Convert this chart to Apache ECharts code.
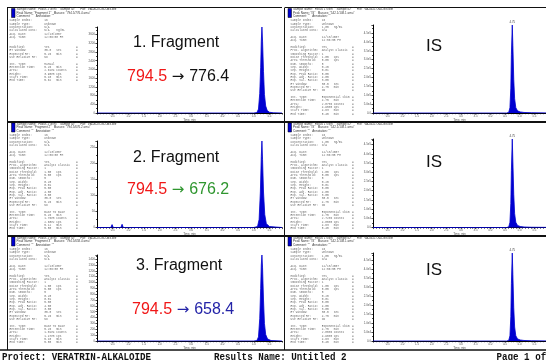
<!DOCTYPE html>
<html>
<head>
<meta charset="utf-8">
<script src="https://cdn.jsdelivr.net/npm/echarts@6/dist/echarts.min.js"></script>
<style>
html,body{margin:0;padding:0;background:#fff;}
#c{width:546px;height:360px;}
</style>
</head>
<body>
<div id="c"></div>
<script>
// Chromatogram traces, [time (min), intensity (cps)]
const frag1Trace = [[0,0],[0.5,0],[1.0,0],[2.0,0],[3.0,0],[4.0,0],[5.0,0],[5.10,20],[5.15,180],[5.19,900],[5.22,2100],[5.24,3300],[5.26,3950],[5.28,3300],[5.31,1900],[5.34,850],[5.38,320],[5.43,110],[5.50,35],[5.62,10],[5.9,0]];
const frag2Trace = [[0,0],[0.44,0],[0.48,9],[0.52,0],[0.76,0],[0.80,10],[0.84,0],[1.5,0],[3.0,0],[5.0,0],[5.12,3],[5.17,25],[5.21,110],[5.24,220],[5.26,268],[5.28,210],[5.31,110],[5.35,40],[5.40,12],[5.50,3],[5.9,0]];
const frag3Trace = [[0,0],[1.0,0],[2.0,0],[4.0,0],[5.0,0],[5.10,8],[5.15,70],[5.19,380],[5.22,900],[5.24,1300],[5.26,1470],[5.28,1250],[5.31,700],[5.34,300],[5.38,110],[5.44,35],[5.55,8],[5.9,0]];
const isTrace1 = [[0,0],[1.0,0],[2.0,0],[3.0,0],[4.0,0],[4.56,0],[4.63,4000],[4.67,30000],[4.70,140000],[4.72,330000],[4.75,495000],[4.77,380000],[4.80,190000],[4.83,80000],[4.87,30000],[4.93,12000],[5.02,6000],[5.15,3000],[5.40,1500],[5.9,800]];
const isTrace2 = [[0,0],[1.0,0],[2.0,0],[3.0,0],[4.0,0],[4.56,0],[4.63,3500],[4.67,28000],[4.70,130000],[4.72,310000],[4.75,480000],[4.77,360000],[4.80,180000],[4.83,75000],[4.87,28000],[4.93,11000],[5.02,5500],[5.15,2800],[5.40,1400],[5.9,700]];
const isTrace3 = [[0,0],[1.0,0],[2.0,0],[3.0,0],[4.0,0],[4.56,0],[4.63,3800],[4.67,29000],[4.70,135000],[4.72,320000],[4.75,490000],[4.77,370000],[4.80,185000],[4.83,78000],[4.87,29000],[4.93,11500],[5.02,5800],[5.15,2900],[5.40,1450],[5.9,750]];

// Axis settings
const timeRange = [0, 5.9];
const timeStep = 0.5;
const fragSteps = [400, 50, 100];
const isSteps = [50000, 50000, 50000];

// Panel captions
const fragmentTitles = ['1. Fragment', '2. Fragment', '3. Fragment'];
const precursorMz = ['794.5', '794.5', '794.5'];
const productMz = ['776.4', '676.2', '658.4'];
const productColors = ['#111111', '#2f962f', '#2424a8'];
const isTitle = 'IS';
const isTransition = '542.1/108.1';

// Footer
const footerProject = 'Project: VERATRIN-ALKALOIDE';
const footerResults = 'Results Name: Untitled 2';
const footerPage = 'Page 1 of';

const fragTraces = [frag1Trace, frag2Trace, frag3Trace];
const isTraces = [isTrace1, isTrace2, isTrace3];

// layout of the three report rows
const rowTop = [7.5, 122, 236];
const axisY = [113, 227.5, 341];
const BLUE = '#0000d0';

function peakIndex(tr) {
  let k = 0;
  tr.forEach((p, i) => { if (p[1] > tr[k][1]) k = i; });
  return k;
}
function peakEdges(tr) {
  const k = peakIndex(tr);
  let s = k, e = k;
  while (s > 0 && tr[s - 1][1] > 0) s--;
  while (e < tr.length - 1 && tr[e + 1][1] > tr[k][1] * 0.002) e++;
  return [tr[s][0], tr[e][0]];
}

function infoLong(o) {
  return [
    ['Sample Index:', '16'],
    ['Sample Type:', 'Unknown'],
    ['Concentration:', o.conc],
    ['Calculated Conc:', 'N/A'],
    [],
    ['Acq. Date:', '12/13/2007'],
    ['Acq. Time:', '12:56:58 PM'],
    [],
    ['Modified:', 'Yes'],
    ['Proc. Algorithm:', 'Analyst Classic'],
    ['Smoothing Factor:', '1'],
    ['Noise Threshold:', '1.00   cps'],
    ['Area Threshold:', '5.00   cps'],
    ['Num. Smooths:', '5'],
    ['Sep. Width:', '0.20'],
    ['Sep. Height:', '0.01'],
    ['Exp. Peak Ratio:', '5.00'],
    ['Exp. Adj. Ratio:', '4.00'],
    ['Exp. Val. Ratio:', '3.00'],
    ['RT Window:', '30.0   sec'],
    ['Expected RT:', o.rt + '   min'],
    ['Use Relative RT:', 'No'],
    [],
    ['Int. Type:', o.type],
    ['Retention Time:', o.rt + '   min'],
    ['Area:', o.area + ' counts'],
    ['Height:', o.height + ' cps'],
    ['Start Time:', o.start + '   min'],
    ['End Time:', o.end + '   min']
  ];
}
function infoShort(o) {
  return [
    ['Sample Index:', '16'],
    ['Sample Type:', 'Unknown'],
    ['Concentration:', 'N/A'],
    ['Calculated Conc:', 'N/A    ng/mL'],
    ['Acq. Date:', '12/13/2007'],
    ['Acq. Time:', '12:56:58 PM'],
    [],
    [],
    ['Modified:', 'Yes'],
    ['RT Window:', '30.0   sec'],
    ['Expected RT:', o.rt + '   min'],
    ['Use Relative RT:', 'No'],
    [],
    ['Int. Type:', o.type],
    ['Retention Time:', o.rt + '   min'],
    ['Area:', o.area + ' counts'],
    ['Height:', o.height + ' cps'],
    ['Start Time:', o.start + '   min'],
    ['End Time:', o.end + '   min']
  ];
}
function peakFacts(tr, type, conc) {
  const k = peakIndex(tr);
  const ed = peakEdges(tr);
  let area = 0;
  for (let i = 1; i < tr.length; i++) area += (tr[i][0] - tr[i - 1][0]) * (tr[i][1] + tr[i - 1][1]) / 2 * 60;
  return {
    rt: tr[k][0].toFixed(2), type: type, conc: conc,
    area: area.toExponential(2).replace('e+', 'e'),
    height: tr[k][1].toExponential(2).replace('e+', 'e'),
    start: ed[0].toFixed(2), end: ed[1].toFixed(2)
  };
}

const grids = [], xAxes = [], yAxes = [], series = [], graphics = [];

function addPanel(tr, step, left, axisBottom, isPanel) {
  const gi = grids.length;
  const peakTop = isPanel ? 25 : 27;
  const rowIdx = axisY.indexOf(axisBottom);
  const top = peakTop + (rowIdx === 0 ? 0 : (rowIdx === 1 ? 114 : 228));
  grids.push({ left: left, top: top, width: 185, height: axisBottom - top });
  const ymax = tr[peakIndex(tr)][1];
  xAxes.push({
    gridIndex: gi, type: 'value', min: timeRange[0], max: timeRange[1], interval: timeStep,
    axisLine: { show: true, onZero: false, lineStyle: { color: '#000', width: 1 } },
    axisTick: { show: true, length: 1.6, lineStyle: { color: '#000', width: 0.7 } },
    minorTick: { show: true, splitNumber: 5, length: 1.2, lineStyle: { color: '#000', width: 0.7 } },
    splitLine: { show: false },
    axisLabel: { fontSize: 2.9, color: '#555', margin: 1.5, showMinLabel: false, showMaxLabel: false,
      fontFamily: 'Liberation Sans', formatter: v => v.toFixed(1) },
    name: 'Time, min', nameLocation: 'middle', nameGap: 5.5,
    nameTextStyle: { fontSize: 2.9, color: '#555', fontFamily: 'Liberation Sans' }
  });
  yAxes.push({
    gridIndex: gi, type: 'value', min: 0, max: ymax, interval: step,
    axisLine: { show: true, lineStyle: { color: '#000', width: 1 } },
    axisTick: { show: true, length: 1.6, lineStyle: { color: '#000', width: 0.7 } },
    minorTick: { show: true, splitNumber: 2, length: 1, lineStyle: { color: '#000', width: 0.7 } },
    splitLine: { show: false },
    axisLabel: { fontSize: 2.9, color: '#555', margin: 2, showMaxLabel: false, fontFamily: 'Liberation Sans',
      formatter: isPanel ? (v => v === 0 ? '0.0' : v.toExponential(1).replace('e+', 'e')) : (v => String(v)) }
  });
  const pk = peakIndex(tr);
  series.push({
    type: 'line', xAxisIndex: gi, yAxisIndex: gi, data: tr,
    symbol: 'circle', symbolSize: 0, showSymbol: true, silent: true,
    lineStyle: { color: BLUE, width: 0.8 }, itemStyle: { color: BLUE },
    areaStyle: { color: BLUE, opacity: 1 },
    label: { show: isPanel, position: 'top', distance: 1, fontSize: 2.9, color: '#444',
      fontFamily: 'Liberation Sans', formatter: p => p.dataIndex === pk ? p.value[0].toFixed(2) : '' },
    clip: true, animation: false
  });
}

for (let r = 0; r < 3; r++) {
  addPanel(fragTraces[r], fragSteps[r], 97, axisY[r], false);
  addPanel(isTraces[r], isSteps[r], 373, axisY[r], true);
}

// Report frame
function hline(x1, x2, y, w) {
  graphics.push({ type: 'line', shape: { x1: x1, y1: y, x2: x2, y2: y }, style: { stroke: '#111', lineWidth: w } });
}
function vline(x, y1, y2, w) {
  graphics.push({ type: 'line', shape: { x1: x, y1: y1, x2: x, y2: y2 }, style: { stroke: '#111', lineWidth: w } });
}
hline(7, 282, 7.5, 1);
hline(285, 546, 7.5, 1);
hline(7, 546, 122, 2);
hline(7, 546, 236, 2);
hline(0, 546, 350, 1.6);
vline(7.5, 7.5, 350, 1);
vline(284.5, 7.5, 350, 1);

const monoFont = '2.9px "Liberation Mono"';
function infoBlock(lines, x, y, pad, markX) {
  graphics.push({
    type: 'text', x: x, y: y,
    style: { text: lines.map(l => l.length ? l[0].padEnd(pad) + l[1] : ' ').join('\n'),
      font: monoFont, fill: '#6a6a6a', lineHeight: 3.33, verticalAlign: 'top', align: 'left' }
  });
  graphics.push({
    type: 'text', x: markX, y: y,
    style: { text: lines.map((l, i) => (i >= 8 && l.length) ? '=' : ' ').join('\n'),
      font: monoFont, fill: '#555', lineHeight: 3.33, verticalAlign: 'top', align: 'left' }
  });
}
function headerBlock(x, y, peakName, masses) {
  graphics.push({
    type: 'rect', shape: { x: x - 5, y: y + 0.5, width: 3.5, height: 9 },
    style: { fill: BLUE, stroke: '#000', lineWidth: 0.5 }
  });
  graphics.push({
    type: 'text', x: x, y: y,
    style: { text: [
      'Sample Name: "Fokus 1 GVnl"   Sample ID: ""   File: "VA-06-07-ND-MS.wiff"',
      'Peak Name: "' + peakName + '"   Masses: "' + masses + ' amu"',
      'Comment: ""   Annotation: ""'].join('\n'),
      font: '3px "Liberation Sans"', fill: '#3a3a3a', lineHeight: 3.3, verticalAlign: 'top', align: 'left' }
  });
}

for (let r = 0; r < 3; r++) {
  const off = rowTop[r] - rowTop[0];
  const fFacts = peakFacts(fragTraces[r], r === 0 ? 'Manual' : 'Base To Base', 'N/A');
  const iFacts = peakFacts(isTraces[r], 'Exponential Skim', '1.00   ng/mL');
  headerBlock(16.5, 8 + off, 'Fragment ' + (r + 1), precursorMz[r] + '/' + productMz[r]);
  headerBlock(293, 8 + off, 'IS', isTransition);
  infoBlock(r === 0 ? infoShort(fFacts) : infoLong(fFacts), 9.5, 19 + off, 20, 76);
  infoBlock(infoLong(iFacts), 290.5, 19 + off, 18, 352);

  // captions
  graphics.push({
    type: 'text', x: 133 + (r === 2 ? 3 : 0), y: [43, 158, 266][r],
    style: { text: fragmentTitles[r], font: '16px "Liberation Sans"', fill: '#111', verticalAlign: 'middle', align: 'left' }
  });
  graphics.push({
    type: 'text', x: 127 + (r === 2 ? 5 : 0), y: [77, 190, 310][r],
    style: {
      text: '{a|' + precursorMz[r] + '}{c| \u2192 }{b|' + productMz[r] + '}',
      verticalAlign: 'middle', align: 'left',
      rich: {
        a: { fontSize: 16, fontFamily: 'Liberation Sans', fill: '#f01818' },
        c: { fontSize: 15, fontFamily: 'DejaVu Sans', fill: productColors[r] },
        b: { fontSize: 16, fontFamily: 'Liberation Sans', fill: productColors[r] }
      }
    }
  });
  graphics.push({
    type: 'text', x: 426, y: [46, 162, 270][r],
    style: { text: isTitle, font: '17px "Liberation Sans"', fill: '#111', verticalAlign: 'middle', align: 'left' }
  });
}

// footer
const footerFont = 'bold 11.5px "Liberation Mono"';
[[footerProject, 2], [footerResults, 214], [footerPage, 496.5]].forEach(f => {
  graphics.push({
    type: 'text', x: f[1], y: 357, scaleX: 0.8, originX: 0, originY: 0,
    style: { text: f[0], font: footerFont, fill: '#111', verticalAlign: 'middle', align: 'left' }
  });
});

const chart = echarts.init(document.getElementById('c'), null, { renderer: 'canvas' });
chart.setOption({
  animation: false,
  backgroundColor: '#ffffff',
  grid: grids,
  xAxis: xAxes,
  yAxis: yAxes,
  series: series,
  graphic: { elements: graphics }
});
</script>
</body>
</html>
